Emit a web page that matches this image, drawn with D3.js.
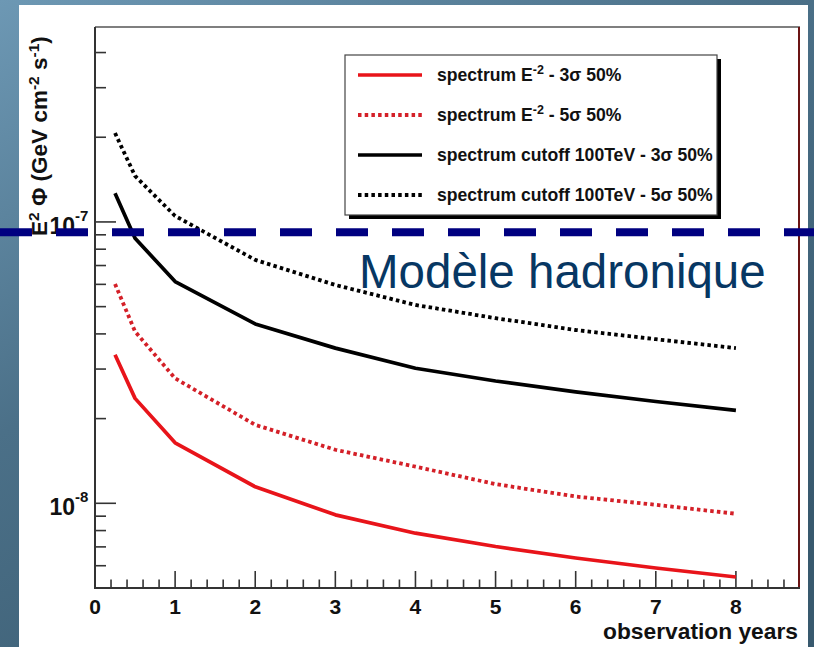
<!DOCTYPE html>
<html>
<head>
<meta charset="utf-8">
<script src="https://cdn.jsdelivr.net/npm/d3@7"></script>
<style>
  html, body { margin: 0; padding: 0; background: #4a6e86; }
  svg { display: block; }
  text { font-family: "Liberation Sans", Arial, Helvetica, sans-serif; }
</style>
</head>
<body>
<svg id="chart" width="814" height="647"></svg>
<script>
// ---------- data ----------
const years = [0.25, 0.5, 1, 2, 3, 4, 5, 6, 7, 8];
const e2_3sigma = [3.37e-8, 2.36e-8, 1.64e-8, 1.145e-8, 9.1e-9, 7.83e-9, 7.02e-9, 6.39e-9, 5.89e-9, 5.47e-9];
const e2_5sigma = [6.02e-8, 4.08e-8, 2.78e-8, 1.90e-8, 1.55e-8, 1.35e-8, 1.17e-8, 1.057e-8, 9.88e-9, 9.18e-9];
const cut_3sigma = [1.265e-7, 8.75e-8, 6.14e-8, 4.34e-8, 3.56e-8, 3.02e-8, 2.72e-8, 2.49e-8, 2.30e-8, 2.14e-8];
const cut_5sigma = [2.07e-7, 1.457e-7, 1.05e-7, 7.33e-8, 5.97e-8, 5.07e-8, 4.55e-8, 4.13e-8, 3.83e-8, 3.56e-8];
const seriesNames = ["spectrum E-2 - 3σ 50%", "spectrum E-2 - 5σ 50%", "spectrum cutoff 100TeV - 3σ 50%", "spectrum cutoff 100TeV - 5σ 50%"];
const xTickLabels = [0, 1, 2, 3, 4, 5, 6, 7, 8];
const yLabelTicks = [1e-8, 1e-7];
const hadronLevel = 9.2e-8;
const hadronLabel = "Modèle hadronique";
const xTitle = "observation years";

// ---------- layout ----------
const svg = d3.select("#chart");
const W = 814, H = 647;
const plot = {left: 95, right: 800, top: 27, bottom: 588};

const defs = svg.append("defs");
const grad = defs.append("linearGradient").attr("id", "bg")
  .attr("x1", 0).attr("y1", 0).attr("x2", 0.7).attr("y2", 1);
grad.append("stop").attr("offset", 0).attr("stop-color", "#6d98b4");
grad.append("stop").attr("offset", 0.45).attr("stop-color", "#4b7088");
grad.append("stop").attr("offset", 1).attr("stop-color", "#38596e");

svg.append("rect").attr("width", W).attr("height", H).attr("fill", "url(#bg)");
svg.append("rect").attr("x", 19).attr("y", 5).attr("width", 789).attr("height", H - 5).attr("fill", "#ffffff");

const x = d3.scaleLinear().domain([0, 8.8]).range([plot.left, plot.right]);
const y = d3.scaleLog().domain([5e-9, 4.93e-7]).range([plot.bottom, plot.top]);

// frame
svg.append("line").attr("x1", plot.left).attr("x2", plot.right).attr("y1", plot.top).attr("y2", plot.top)
  .attr("stroke", "#555").attr("stroke-width", 1.5);
svg.append("line").attr("x1", plot.right - 1).attr("x2", plot.right - 1).attr("y1", plot.top).attr("y2", plot.bottom)
  .attr("stroke", "#6b1414").attr("stroke-width", 2);

// y axis (ticks pointing inward)
const yMinor = y.ticks().filter(v => v >= 5e-9 && v <= 4.93e-7);
const yAxisG = svg.append("g");
yAxisG.selectAll("line.tk").data(yMinor).enter().append("line")
  .attr("x1", plot.left)
  .attr("x2", d => plot.left + (yLabelTicks.some(t => Math.abs(t - d) / t < 1e-6) ? 21 : 11))
  .attr("y1", d => y(d)).attr("y2", d => y(d))
  .attr("stroke", "#333").attr("stroke-width", 1.6);
yAxisG.append("line").attr("x1", plot.left).attr("x2", plot.left).attr("y1", plot.top).attr("y2", plot.bottom + 1)
  .attr("stroke", "#333").attr("stroke-width", 2);
yLabelTicks.forEach(v => {
  svg.append("text").attr("x", 75).attr("y", y(v) + 12)
    .attr("text-anchor", "end").attr("font-weight", "bold").attr("font-size", 23).attr("fill", "#111")
    .text("10");
  svg.append("text").attr("x", 75).attr("y", y(v) - 1)
    .attr("font-weight", "bold").attr("font-size", 15).attr("fill", "#111")
    .text("-" + Math.round(-Math.log10(v)));
});

// x axis
const xMinor = d3.range(0, 44).map(i => i * 0.2);
const xAxisG = svg.append("g");
xAxisG.selectAll("line.tk").data(xMinor).enter().append("line")
  .attr("x1", d => x(d)).attr("x2", d => x(d))
  .attr("y1", plot.bottom)
  .attr("y2", d => plot.bottom - (Math.abs(d - Math.round(d)) < 1e-6 ? 17 : 8.5))
  .attr("stroke", "#333").attr("stroke-width", 1.6);
xAxisG.append("line").attr("x1", plot.left).attr("x2", plot.right).attr("y1", plot.bottom).attr("y2", plot.bottom)
  .attr("stroke", "#333").attr("stroke-width", 2);
xAxisG.selectAll("text.xl").data(xTickLabels).enter().append("text")
  .attr("x", d => x(d)).attr("y", 614)
  .attr("text-anchor", "middle").attr("font-weight", "bold").attr("font-size", 21).attr("fill", "#111")
  .text(d => d);
svg.append("text").attr("x", 798).attr("y", 639).attr("text-anchor", "end")
  .attr("font-weight", "bold").attr("font-size", 22).attr("fill", "#111")
  .attr("textLength", 195).attr("lengthAdjust", "spacingAndGlyphs").text(xTitle);

// y title
const yt = svg.append("text").attr("transform", "translate(47,236) rotate(-90)")
  .attr("font-weight", "bold").attr("font-size", 22.5).attr("fill", "#111");
yt.append("tspan").text("E");
yt.append("tspan").attr("font-size", 15.5).attr("dy", -8).text("2");
yt.append("tspan").attr("dy", 8).text(" Φ (GeV cm");
yt.append("tspan").attr("font-size", 15.5).attr("dy", -8).text("-2");
yt.append("tspan").attr("dy", 8).text(" s");
yt.append("tspan").attr("font-size", 15.5).attr("dy", -8).text("-1");
yt.append("tspan").attr("dy", 8).text(")");

// series
const series = [
  {vals: e2_3sigma, color: "#e8141a", dash: null},
  {vals: e2_5sigma, color: "#d42028", dash: "3.5 3.2"},
  {vals: cut_3sigma, color: "#000000", dash: null},
  {vals: cut_5sigma, color: "#000000", dash: "3.5 3.2"}
];
const line = d3.line().x((d, i) => x(years[i])).y(d => y(d));
series.forEach(s => {
  svg.append("path").attr("d", line(s.vals)).attr("fill", "none")
    .attr("stroke", s.color).attr("stroke-width", s.dash ? 3.8 : 3.7)
    .attr("stroke-dasharray", s.dash).attr("stroke-linejoin", "round");
});

// legend
const lg = {x: 345, y: 55, w: 372, h: 160};
svg.append("rect").attr("x", lg.x + 4).attr("y", lg.y + 4).attr("width", lg.w).attr("height", lg.h).attr("fill", "#000");
svg.append("rect").attr("x", lg.x).attr("y", lg.y).attr("width", lg.w).attr("height", lg.h)
  .attr("fill", "#fff").attr("stroke", "#444").attr("stroke-width", 1.2);
seriesNames.forEach((name, i) => {
  const cy = 75 + i * 40;
  const s = series[i];
  svg.append("line").attr("x1", 358).attr("x2", 422).attr("y1", cy).attr("y2", cy)
    .attr("stroke", s.color).attr("stroke-width", s.dash ? 3.8 : 3.7).attr("stroke-dasharray", s.dash);
  const t = svg.append("text").attr("x", 437).attr("y", cy + 6)
    .attr("font-weight", "bold").attr("font-size", 17.6).attr("fill", "#111");
  const m = name.match(/^(spectrum E)(-2)( .*)$/);
  if (m) {
    t.append("tspan").text(m[1]);
    t.append("tspan").attr("font-size", 12.5).attr("dy", -7).text(m[2]);
    t.append("tspan").attr("dy", 7).text(m[3]);
  } else {
    t.text(name);
  }
});

// hadronic model line
svg.append("line").attr("x1", 0).attr("x2", W).attr("y1", y(hadronLevel)).attr("y2", y(hadronLevel))
  .attr("stroke", "#000080").attr("stroke-width", 8).attr("stroke-dasharray", "32 24");
svg.append("text").attr("x", 359).attr("y", 288).attr("font-size", 47.5).attr("fill", "#073763")
  .text(hadronLabel);
</script>
</body>
</html>
